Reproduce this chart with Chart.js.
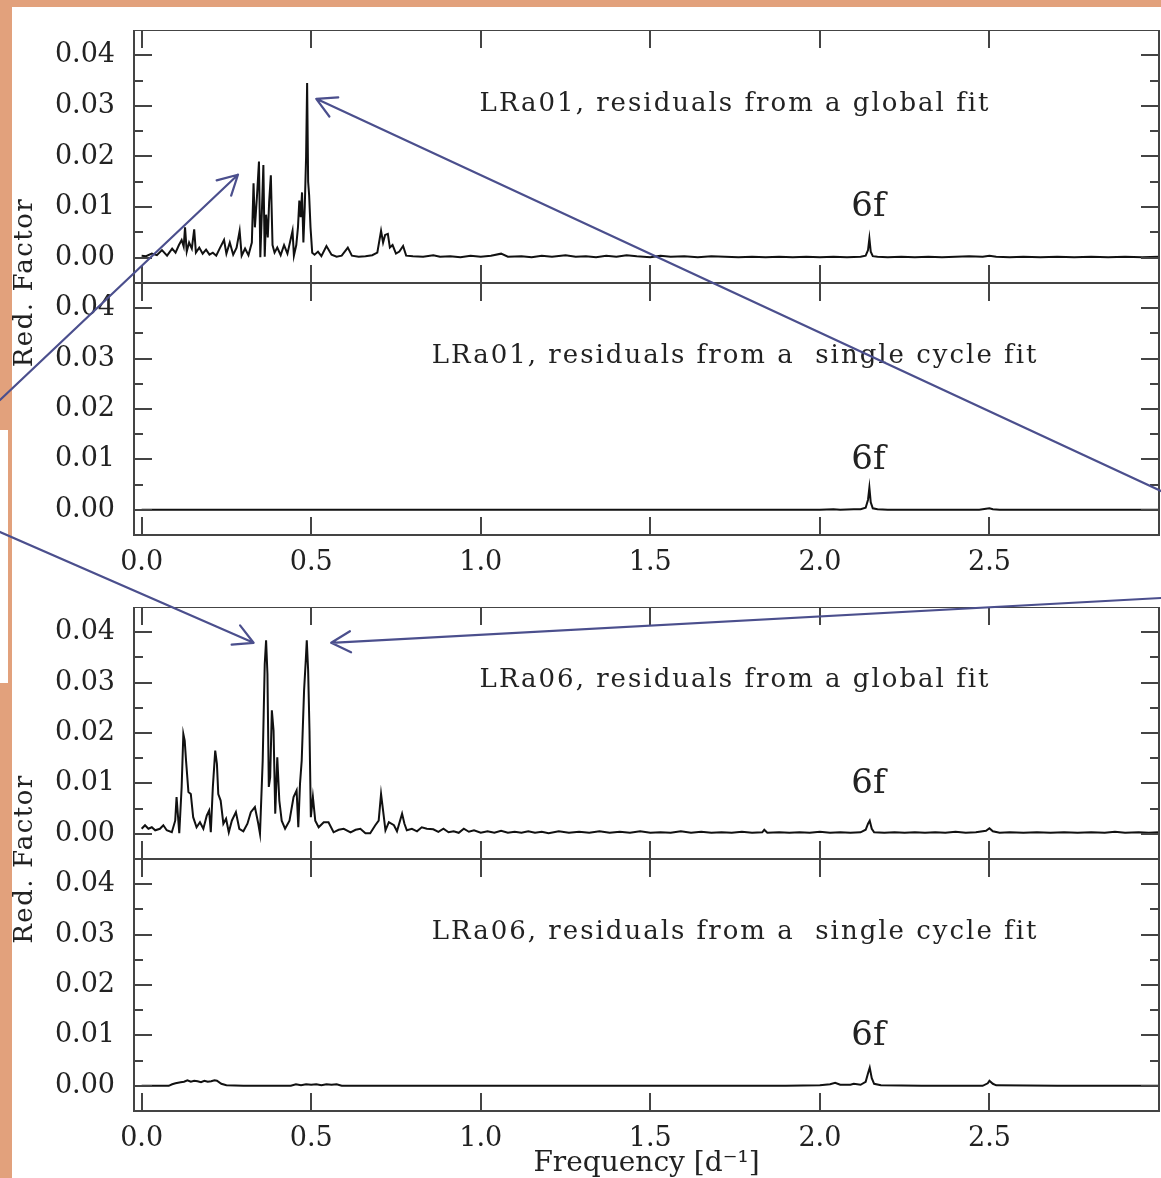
<!DOCTYPE html>
<html>
<head>
<meta charset="utf-8">
<script src="https://cdn.jsdelivr.net/npm/chart.js@4.4.1/dist/chart.umd.min.js"></script>
<style>
  body { margin: 0; background: #e2a17c; }
  #page { position: relative; width: 1161px; height: 1178px; overflow: hidden; background: #e2a17c; }
  #sheet { position: absolute; left: 12px; top: 7px; right: 0; bottom: 0; background: #fff; }
  #strip { position: absolute; left: 0; top: 430px; width: 8px; height: 253px; background: #fff; }
  canvas { position: absolute; left: 0; }
  #overlay { top: 0; pointer-events: none; }
</style>
</head>
<body>
<div id="page">
  <div id="sheet"></div>
  <div id="strip"></div>
  <canvas id="p1" width="1161" height="253" style="top:30px"></canvas>
  <canvas id="p2" width="1161" height="312" style="top:283px"></canvas>
  <canvas id="p3" width="1161" height="252" style="top:607px"></canvas>
  <canvas id="p4" width="1161" height="322" style="top:859px"></canvas>
  <canvas id="overlay" width="1161" height="1178"></canvas>
</div>
<script>
// tick values
var xTicks = [0, 0.5, 1.0, 1.5, 2.0, 2.5];
var yTicks = [0, 0.01, 0.02, 0.03, 0.04];
var yMinorTicks = [0.005, 0.015, 0.025, 0.035];

// [frequency d^-1, reduction factor]
var lra01Global = [
  [0.000,0.0004],[0.013,0.0003],[0.030,0.0008],[0.045,0.0005],[0.060,0.0015],[0.075,0.0004],[0.090,0.0018],
  [0.100,0.0010],[0.110,0.0025],[0.118,0.0035],[0.124,0.0022],[0.128,0.0060],[0.133,0.0012],[0.140,0.0030],
  [0.148,0.0018],[0.155,0.0056],[0.160,0.0010],[0.170,0.0020],[0.180,0.0008],[0.190,0.0016],[0.200,0.0006],
  [0.210,0.0010],[0.220,0.0004],[0.230,0.0018],[0.243,0.0035],[0.250,0.0008],[0.260,0.0030],[0.270,0.0006],
  [0.280,0.0020],[0.289,0.0053],[0.295,0.0004],[0.305,0.0018],[0.315,0.0005],[0.325,0.0030],[0.330,0.0147],
  [0.334,0.0060],[0.340,0.0120],[0.346,0.0190],[0.350,0.0001],[0.355,0.0100],[0.359,0.0183],[0.363,0.0002],
  [0.367,0.0085],[0.372,0.0040],[0.376,0.0110],[0.381,0.0163],[0.386,0.0025],[0.392,0.0010],[0.400,0.0020],
  [0.410,0.0005],[0.420,0.0025],[0.430,0.0008],[0.445,0.0053],[0.449,0.0004],[0.456,0.0025],[0.461,0.0060],
  [0.465,0.0113],[0.469,0.0080],[0.473,0.0129],[0.477,0.0030],[0.481,0.0100],[0.485,0.0200],[0.488,0.0345],
  [0.491,0.0150],[0.494,0.0123],[0.498,0.0060],[0.503,0.0010],[0.510,0.0006],[0.520,0.0012],[0.530,0.0003],
  [0.545,0.0023],[0.560,0.0006],[0.575,0.0002],[0.590,0.0004],[0.608,0.0020],[0.620,0.0004],[0.640,0.0002],
  [0.660,0.0003],[0.680,0.0005],[0.695,0.0010],[0.706,0.0053],[0.712,0.0030],[0.718,0.0045],[0.726,0.0047],
  [0.732,0.0020],[0.740,0.0025],[0.750,0.0008],[0.760,0.0012],[0.771,0.0023],[0.780,0.0004],[0.800,0.0003],
  [0.830,0.0002],[0.860,0.0005],[0.880,0.0002],[0.910,0.0003],[0.940,0.0001],[0.970,0.0004],[1.000,0.0002],
  [1.030,0.0004],[1.060,0.0008],[1.080,0.0002],[1.120,0.0003],[1.150,0.0001],[1.180,0.0004],[1.210,0.0002],
  [1.250,0.0005],[1.280,0.0002],[1.310,0.0003],[1.340,0.0001],[1.370,0.0004],[1.400,0.0002],[1.430,0.0005],
  [1.460,0.0003],[1.500,0.0001],[1.530,0.0004],[1.560,0.0002],[1.600,0.0003],[1.640,0.0001],[1.680,0.0003],
  [1.720,0.0002],[1.760,0.0001],[1.800,0.0002],[1.840,0.0001],[1.880,0.0002],[1.920,0.0001],[1.960,0.0002],
  [2.000,0.0001],[2.040,0.0002],[2.080,0.0001],[2.120,0.0002],[2.135,0.0004],[2.142,0.0015],[2.146,0.0038],
  [2.150,0.0012],[2.156,0.0003],[2.170,0.0002],[2.200,0.0001],[2.240,0.0002],[2.280,0.0001],[2.320,0.0002],
  [2.360,0.0001],[2.400,0.0002],[2.440,0.0003],[2.480,0.0002],[2.500,0.0004],[2.520,0.0002],[2.560,0.0001],
  [2.600,0.0002],[2.650,0.0001],[2.700,0.0002],[2.750,0.0001],[2.800,0.0002],[2.850,0.0001],[2.900,0.0002],
  [2.950,0.0001],[3.000,0.0002]
];

var lra01Single = [
  [0.000,0.0000],[0.500,0.0000],[1.000,0.0000],[1.500,0.0000],[2.000,0.0000],[2.040,0.0001],[2.060,0.0000],
  [2.100,0.0001],[2.120,0.0001],[2.135,0.0004],[2.142,0.0020],[2.146,0.0044],[2.150,0.0015],[2.156,0.0003],
  [2.170,0.0001],[2.200,0.0000],[2.300,0.0000],[2.470,0.0000],[2.490,0.0002],[2.500,0.0003],[2.510,0.0001],
  [2.530,0.0000],[2.700,0.0000],[3.000,0.0000]
];

var lra06Global = [
  [0.000,0.0010],[0.010,0.0017],[0.020,0.0010],[0.030,0.0013],[0.040,0.0007],[0.054,0.0010],[0.064,0.0017],
  [0.074,0.0007],[0.089,0.0003],[0.099,0.0026],[0.103,0.0073],[0.111,0.0001],[0.118,0.0093],[0.123,0.0198],
  [0.127,0.0185],[0.131,0.0145],[0.138,0.0083],[0.145,0.0079],[0.152,0.0033],[0.162,0.0013],[0.172,0.0023],
  [0.182,0.0010],[0.192,0.0036],[0.199,0.0046],[0.204,0.0003],[0.210,0.0093],[0.217,0.0165],[0.222,0.0139],
  [0.226,0.0079],[0.233,0.0066],[0.241,0.0020],[0.249,0.0030],[0.257,0.0003],[0.266,0.0026],[0.278,0.0043],
  [0.288,0.0010],[0.300,0.0005],[0.312,0.0020],[0.322,0.0043],[0.334,0.0053],[0.344,0.0020],[0.349,0.0000],
  [0.357,0.0145],[0.363,0.0337],[0.367,0.0384],[0.371,0.0317],[0.375,0.0093],[0.379,0.0112],[0.384,0.0245],
  [0.389,0.0205],[0.394,0.0040],[0.400,0.0152],[0.406,0.0066],[0.413,0.0026],[0.423,0.0010],[0.436,0.0026],
  [0.448,0.0073],[0.457,0.0086],[0.462,0.0013],[0.467,0.0099],[0.472,0.0145],[0.479,0.0284],[0.484,0.0344],
  [0.487,0.0384],[0.491,0.0324],[0.495,0.0205],[0.499,0.0033],[0.505,0.0073],[0.512,0.0026],[0.522,0.0013],
  [0.537,0.0023],[0.551,0.0023],[0.566,0.0003],[0.581,0.0008],[0.596,0.0010],[0.616,0.0003],[0.631,0.0008],
  [0.645,0.0010],[0.660,0.0001],[0.674,0.0001],[0.689,0.0017],[0.699,0.0026],[0.706,0.0079],[0.712,0.0046],
  [0.719,0.0007],[0.729,0.0023],[0.744,0.0017],[0.753,0.0005],[0.768,0.0040],[0.775,0.0020],[0.782,0.0007],
  [0.797,0.0010],[0.812,0.0005],[0.826,0.0013],[0.841,0.0010],[0.860,0.0009],[0.875,0.0004],[0.890,0.0010],
  [0.905,0.0003],[0.920,0.0005],[0.935,0.0002],[0.950,0.0010],[0.965,0.0004],[0.980,0.0007],[1.000,0.0002],
  [1.020,0.0005],[1.040,0.0002],[1.060,0.0006],[1.080,0.0002],[1.100,0.0004],[1.120,0.0002],[1.140,0.0005],
  [1.160,0.0002],[1.180,0.0004],[1.200,0.0001],[1.230,0.0005],[1.260,0.0002],[1.290,0.0004],[1.320,0.0002],
  [1.350,0.0005],[1.380,0.0002],[1.410,0.0004],[1.440,0.0002],[1.470,0.0005],[1.500,0.0002],[1.530,0.0003],
  [1.560,0.0002],[1.590,0.0005],[1.620,0.0002],[1.650,0.0004],[1.680,0.0002],[1.710,0.0003],[1.740,0.0002],
  [1.770,0.0004],[1.800,0.0002],[1.830,0.0003],[1.836,0.0008],[1.845,0.0002],[1.880,0.0003],[1.910,0.0002],
  [1.940,0.0003],[1.970,0.0002],[2.000,0.0004],[2.030,0.0002],[2.060,0.0003],[2.090,0.0002],[2.120,0.0003],
  [2.135,0.0008],[2.142,0.0020],[2.147,0.0026],[2.153,0.0010],[2.160,0.0003],[2.190,0.0002],[2.220,0.0003],
  [2.250,0.0002],[2.280,0.0003],[2.310,0.0002],[2.340,0.0003],[2.370,0.0002],[2.400,0.0004],[2.430,0.0002],
  [2.460,0.0003],[2.490,0.0006],[2.500,0.0011],[2.510,0.0005],[2.530,0.0002],[2.560,0.0003],[2.600,0.0002],
  [2.640,0.0003],[2.680,0.0002],[2.720,0.0003],[2.760,0.0002],[2.800,0.0003],[2.840,0.0002],[2.870,0.0004],
  [2.900,0.0002],[2.940,0.0003],[2.970,0.0002],[3.000,0.0003]
];

var lra06Single = [
  [0.000,0.0000],[0.080,0.0000],[0.090,0.0003],[0.100,0.0005],[0.115,0.0007],[0.125,0.0008],[0.135,0.0011],
  [0.145,0.0008],[0.155,0.0010],[0.165,0.0009],[0.175,0.0007],[0.185,0.0010],[0.195,0.0008],[0.205,0.0009],
  [0.215,0.0011],[0.222,0.0010],[0.235,0.0004],[0.250,0.0001],[0.300,0.0000],[0.440,0.0000],[0.455,0.0003],
  [0.470,0.0001],[0.485,0.0003],[0.500,0.0002],[0.515,0.0003],[0.530,0.0001],[0.545,0.0003],[0.560,0.0002],
  [0.575,0.0003],[0.590,0.0000],[0.800,0.0000],[1.000,0.0000],[1.300,0.0000],[1.600,0.0000],[1.900,0.0000],
  [2.000,0.0001],[2.030,0.0003],[2.045,0.0006],[2.060,0.0002],[2.090,0.0002],[2.100,0.0004],[2.120,0.0002],
  [2.135,0.0008],[2.142,0.0025],[2.147,0.0036],[2.153,0.0015],[2.160,0.0004],[2.180,0.0001],[2.300,0.0000],
  [2.480,0.0000],[2.495,0.0005],[2.500,0.0010],[2.510,0.0004],[2.520,0.0001],[2.700,0.0000],[3.000,0.0000]
];

var panelTitles = [
  'LRa01, residuals from a global fit',
  'LRa01, residuals from a  single cycle fit',
  'LRa06, residuals from a global fit',
  'LRa06, residuals from a  single cycle fit'
];

var serif = "'DejaVu Serif', 'Liberation Serif', serif";
var inkColor = '#222';
var frameColor = '#444';
var arrowColor = '#4b4f8d';

function panelDecor(title) {
  return {
    id: 'panelDecor',
    afterDatasetsDraw: function (chart) {
      var ctx = chart.ctx, a = chart.chartArea, x = chart.scales.x, y = chart.scales.y;
      ctx.save();
      ctx.strokeStyle = frameColor;
      ctx.lineWidth = 2;
      ctx.strokeRect(a.left, a.top, a.right - a.left, a.bottom - a.top);
      ctx.beginPath();
      xTicks.forEach(function (v) {
        var px = Math.round(x.getPixelForValue(v));
        ctx.moveTo(px, a.top); ctx.lineTo(px, a.top + 18);
        ctx.moveTo(px, a.bottom); ctx.lineTo(px, a.bottom - 18);
      });
      yTicks.forEach(function (v) {
        var py = Math.round(y.getPixelForValue(v));
        ctx.moveTo(a.left, py); ctx.lineTo(a.left + 18, py);
        ctx.moveTo(a.right, py); ctx.lineTo(a.right - 18, py);
      });
      yMinorTicks.forEach(function (v) {
        var py = Math.round(y.getPixelForValue(v));
        ctx.moveTo(a.left, py); ctx.lineTo(a.left + 9, py);
        ctx.moveTo(a.right, py); ctx.lineTo(a.right - 9, py);
      });
      ctx.stroke();

      ctx.fillStyle = inkColor;
      ctx.textAlign = 'center';
      ctx.textBaseline = 'middle';
      ctx.font = '26px ' + serif;
      ctx.letterSpacing = '2px';
      ctx.fillText(title, x.getPixelForValue(1.75), y.getPixelForValue(0.0304));
      ctx.letterSpacing = '0px';
      ctx.font = '34px ' + serif;
      ctx.fillText('6f', x.getPixelForValue(2.143), y.getPixelForValue(0.0099));
      ctx.restore();
    }
  };
}

function makePanel(id, series, title, xHeight, xTitle) {
  return new Chart(document.getElementById(id), {
    type: 'line',
    data: {
      datasets: [{
        data: series.map(function (p) { return { x: p[0], y: p[1] }; }),
        borderColor: '#111',
        borderWidth: 2,
        pointRadius: 0,
        tension: 0,
        fill: false
      }]
    },
    options: {
      responsive: false,
      animation: false,
      events: [],
      layout: { padding: { left: 0, right: 2, top: 0, bottom: 0 } },
      plugins: { legend: { display: false }, tooltip: { enabled: false } },
      scales: {
        x: {
          type: 'linear',
          min: -0.0225,
          max: 3.0,
          display: xHeight > 0,
          grid: { display: false, drawTicks: false },
          border: { display: false },
          afterBuildTicks: function (s) { s.ticks = xTicks.map(function (v) { return { value: v }; }); },
          afterFit: function (s) { s.height = xHeight; s.paddingLeft = 0; s.paddingRight = 0; },
          ticks: {
            font: { family: serif, size: 27 },
            color: inkColor,
            padding: 12,
            maxRotation: 0,
            autoSkip: false,
            callback: function (v) { return v.toFixed(1); }
          },
          title: {
            display: !!xTitle,
            text: xTitle || '',
            font: { family: serif, size: 28 },
            color: inkColor,
            padding: { top: 0, bottom: 0 }
          }
        },
        y: {
          min: -0.005,
          max: 0.045,
          grid: { display: false, drawTicks: false },
          border: { display: false },
          afterBuildTicks: function (s) { s.ticks = yTicks.map(function (v) { return { value: v }; }); },
          afterFit: function (s) { s.width = 134; s.paddingTop = 0; s.paddingBottom = 0; },
          ticks: {
            font: { family: serif, size: 27 },
            color: inkColor,
            padding: 19,
            callback: function (v) { return v.toFixed(2); }
          }
        }
      }
    },
    plugins: [panelDecor(title)]
  });
}

var charts = [
  makePanel('p1', lra01Global, panelTitles[0], 0),
  makePanel('p2', lra01Single, panelTitles[1], 60),
  makePanel('p3', lra06Global, panelTitles[2], 0),
  makePanel('p4', lra06Single, panelTitles[3], 70, 'Frequency [d\u207B\u00B9]')
];

// arrows: tip at a data point of a panel, tail at the page edge
var arrows = [
  { panel: 0, tip: [0.284, 0.0164], tail: [0, 400] },
  { panel: 0, tip: [0.515, 0.0314], tail: [1161, 491] },
  { panel: 2, tip: [0.330, 0.0379], tail: [0, 532] },
  { panel: 2, tip: [0.559, 0.0379], tail: [1161, 598] }
];

function pagePoint(chart, fx, fy) {
  var c = chart.canvas;
  return [c.offsetLeft + chart.scales.x.getPixelForValue(fx), c.offsetTop + chart.scales.y.getPixelForValue(fy)];
}

var octx = document.getElementById('overlay').getContext('2d');
octx.strokeStyle = arrowColor;
octx.lineWidth = 2.2;
octx.lineCap = 'round';
arrows.forEach(function (ar) {
  var tip = pagePoint(charts[ar.panel], ar.tip[0], ar.tip[1]);
  var ang = Math.atan2(ar.tail[1] - tip[1], ar.tail[0] - tip[0]);
  octx.beginPath();
  octx.moveTo(ar.tail[0], ar.tail[1]);
  octx.lineTo(tip[0], tip[1]);
  [-0.5, 0.5].forEach(function (d) {
    octx.moveTo(tip[0], tip[1]);
    octx.lineTo(tip[0] + 22 * Math.cos(ang + d), tip[1] + 22 * Math.sin(ang + d));
  });
  octx.stroke();
});

// shared y-axis label for each pair of panels
octx.fillStyle = inkColor;
octx.font = '26px ' + serif;
octx.textAlign = 'center';
octx.textBaseline = 'middle';
octx.letterSpacing = '1.5px';
[[charts[0], charts[1]], [charts[2], charts[3]]].forEach(function (pair) {
  var top = pair[0].canvas.offsetTop + pair[0].chartArea.top;
  var bottom = pair[1].canvas.offsetTop + pair[1].chartArea.bottom;
  octx.save();
  octx.translate(25, (top + bottom) / 2);
  octx.rotate(-Math.PI / 2);
  octx.fillText('Red. Factor', 0, 0);
  octx.restore();
});
</script>
</body>
</html>
